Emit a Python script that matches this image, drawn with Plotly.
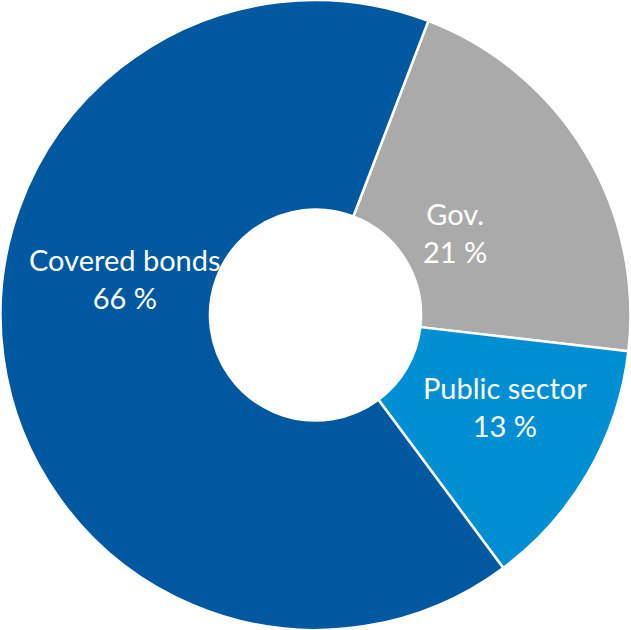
import plotly.graph_objects as go

labels = ["Gov.", "Public sector", "Covered bonds"]
values = [21, 13, 66]
colors = ["#AAAAAA", "#008FD3", "#0059A0"]
# label centres (pixels in the 631x630 picture)
label_px = [(455, 232), (505, 406), (125, 278)]

W, H = 631, 630

fig = go.Figure(go.Pie(
    labels=labels,
    values=values,
    sort=False,
    direction="clockwise",
    rotation=21.0,
    hole=0.335,
    marker=dict(colors=colors, line=dict(color="white", width=2.5)),
    textinfo="none",
    hoverinfo="label+percent",
    showlegend=False,
))

annotations = []
for lab, val, (px, py) in zip(labels, values, label_px):
    annotations.append(dict(
        x=px / W, y=1 - py / H, xref="paper", yref="paper",
        text=f"{lab}<br>{val} %", showarrow=False,
        font=dict(family="Lato, Carlito, Calibri, sans-serif", size=29, color="white"),
        align="center", xanchor="center", yanchor="middle",
    ))

fig.update_layout(
    width=W, height=H,
    margin=dict(l=0, r=0, t=0, b=0),
    paper_bgcolor="white", plot_bgcolor="white",
    annotations=annotations,
)

fig.write_html("out.html", config={"displayModeBar": False},
               post_script="document.body.style.margin='0';document.body.style.padding='0';")
